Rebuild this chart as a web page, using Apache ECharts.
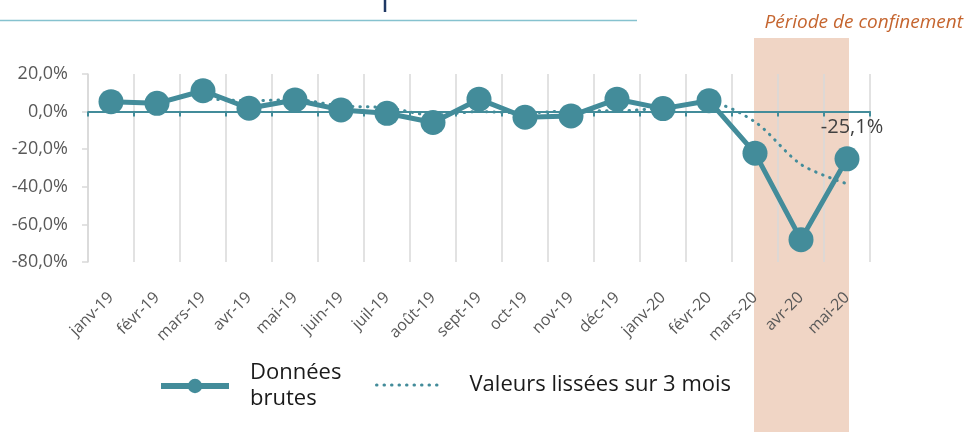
<!DOCTYPE html>
<html><head><meta charset="utf-8">
<script src="https://cdn.jsdelivr.net/npm/echarts@6/dist/echarts.min.js"></script>
<style>html,body{margin:0;padding:0;background:#fff}#c{width:967px;height:432px}</style>
</head><body><div id="c"></div>
<script>
const categories = ['janv-19','févr-19','mars-19','avr-19','mai-19','juin-19','juil-19','août-19','sept-19','oct-19','nov-19','déc-19','janv-20','févr-20','mars-20','avr-20','mai-20'];
const rawValues = [5.3, 4.4, 11.1, 1.8, 6.2, 0.9, -0.9, -5.8, 6.6, -3.0, -2.3, 6.6, 1.6, 5.8, -22.1, -68.1, -25.1];
const smoothedValues = [null, null, 6.9, 5.8, 6.4, 3.0, 2.1, -1.9, 0.0, -0.7, 0.4, 0.4, 2.0, 4.7, -5.5, -28.1, -38.4];
const yMin = -80, yMax = 20, yStep = 20;
const rawName = 'Données brutes';
const smoothName = 'Valeurs lissées sur 3 mois';
const periodLabel = 'Période de confinement';
const periodStart = 'mars-20', periodEnd = 'mai-20';

const teal = '#438C9A';
const font = 'Open Sans';
const fmtPct = v => v.toFixed(1).replace('.', ',') + '%';

const chart = echarts.init(document.getElementById('c'));
chart.setOption({
  animation: false,
  textStyle: { fontFamily: font },
  grid: { left: 88, right: 97, top: 74, bottom: 170, containLabel: false },
  legend: [
    { left: 153, top: 355, data: [rawName], itemWidth: 68, itemHeight: 18,
      lineStyle: { width: 6 },
      formatter: n => 'Données\nbrutes',
      textStyle: { fontFamily: font, fontSize: 22, lineHeight: 26, color: '#1a1a1a', padding: [0,0,0,16] } },
    { left: 370, top: 369, data: [smoothName], itemWidth: 63, itemHeight: 18,
      lineStyle: { width: 3 }, itemStyle: { opacity: 0 },
      textStyle: { fontFamily: font, fontSize: 22, color: '#1a1a1a', padding: [0,0,0,25] } }
  ],
  xAxis: [
    { type: 'category', data: categories, position: 'bottom', boundaryGap: true,
      axisLine: { show: false, onZero: false }, axisTick: { show: false },
      axisLabel: { interval: 0, rotate: 45, margin: 33, color: '#595959', fontSize: 16, fontFamily: font },
      splitLine: { show: true, interval: 0, lineStyle: { color: '#d9d9d9', width: 1.5 } } },
    { type: 'category', data: categories, position: 'bottom', boundaryGap: true,
      axisLine: { show: true, onZero: true, onZeroAxisIndex: 0, lineStyle: { color: teal, width: 2 } },
      axisTick: { show: true, interval: 0, length: 5, lineStyle: { color: teal, width: 2 } },
      axisLabel: { show: false }, splitLine: { show: false } }
  ],
  yAxis: { type: 'value', min: yMin, max: yMax, interval: yStep,
    axisLine: { show: true, lineStyle: { color: '#d9d9d9', width: 1.5 } },
    axisTick: { show: true, length: 6, lineStyle: { color: '#d9d9d9', width: 1.5 } },
    axisLabel: { margin: 20, color: '#595959', fontSize: 18, fontFamily: font, formatter: v => fmtPct(v) },
    splitLine: { show: false } },
  series: [
    { name: smoothName, type: 'line', data: smoothedValues, xAxisIndex: 0, symbol: 'none', smooth: 0.3, z: 3,
      lineStyle: { color: teal, width: 3, type: [0.5, 7], cap: 'round' }, itemStyle: { color: teal } },
    { name: rawName, type: 'line', data: rawValues, xAxisIndex: 0, symbol: 'circle', symbolSize: 25, z: 4,
      lineStyle: { color: teal, width: 5 }, itemStyle: { color: teal },
      label: { show: true, position: 'top', distance: 9, offset: [5, 0], fontSize: 20, color: '#404040', fontFamily: font,
        formatter: p => p.dataIndex === rawValues.length - 1 ? fmtPct(p.value) : '' } }
  ]
});

const x0 = chart.convertToPixel({ xAxisIndex: 0 }, categories.indexOf(periodStart));
const x1 = chart.convertToPixel({ xAxisIndex: 0 }, categories.indexOf(periodEnd));
chart.setOption({
  graphic: [
    { type: 'rect', z: -10, shape: { x: x0 - 1, y: 38, width: x1 - x0 + 3, height: 400 }, style: { fill: '#F0D5C5' } },
    { type: 'line', z: -5, shape: { x1: 0, y1: 20.5, x2: 637, y2: 20.5 }, style: { stroke: '#86C2CF', lineWidth: 1.5 } },
    { type: 'line', z: -5, shape: { x1: 385, y1: 0, x2: 385, y2: 12 }, style: { stroke: '#1F3864', lineWidth: 2.5 } },
    { type: 'text', z: 5, style: { text: periodLabel, x: 963, y: 23, align: 'right', verticalAlign: 'middle',
        fontFamily: font, fontStyle: 'italic', fontSize: 19, fill: '#C5652F' } }
  ]
});
</script></body></html>
